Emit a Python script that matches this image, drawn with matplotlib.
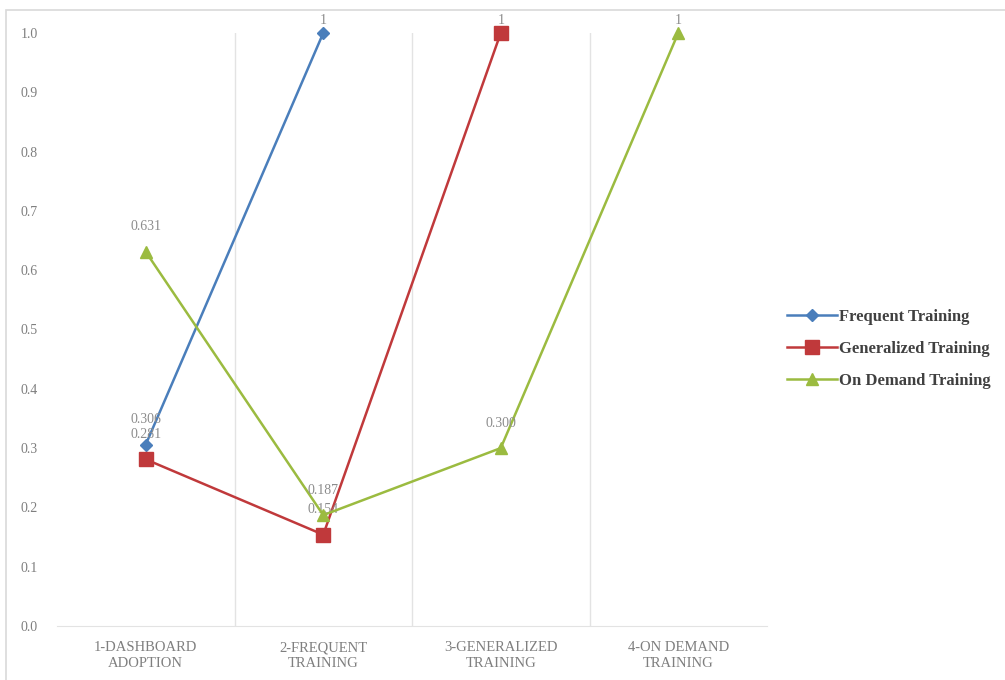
import matplotlib.pyplot as plt
from matplotlib.patches import Rectangle

# categories along the x axis
categories = ["1-DASHBOARD\nADOPTION", "2-FREQUENT\nTRAINING",
              "3-GENERALIZED\nTRAINING", "4-ON DEMAND\nTRAINING"]

# series values (None = no point in that category)
frequent = [0.306, 1.0, None, None]
generalized = [0.281, 0.154, 1.0, None]
on_demand = [0.631, 0.187, 0.300, 1.0]

# labels written next to each point
frequent_lbl = ["0.306", "1", None, None]
generalized_lbl = ["0.281", "0.154", "1", None]
on_demand_lbl = ["0.631", "0.187", "0.300", "1"]

yticks = [0.0, 0.1, 0.2, 0.3, 0.4, 0.5, 0.6, 0.7, 0.8, 0.9, 1.0]

plt.rcParams['font.family'] = ['Liberation Serif', 'DejaVu Serif']

fig = plt.figure(figsize=(10.05, 6.8), dpi=100)
ax = fig.add_axes([57 / 1005, 1 - 626 / 680, 710 / 1005, 593 / 680])

# light outer frame of the chart
fig.patches.append(Rectangle((6 / 1005, -0.1), 1.2, 1 - 10 / 680 + 0.1,
                             transform=fig.transFigure, fill=False,
                             edgecolor="#d9d9d9", linewidth=1.2))

series = [
    ("Frequent Training", frequent, frequent_lbl, "#4a7ebb", "D", 6),
    ("Generalized Training", generalized, generalized_lbl, "#c0393b", "s", 10),
    ("On Demand Training", on_demand, on_demand_lbl, "#9bbb40", "^", 8),
]

for z, (name, vals, lbls, col, mk, ms) in enumerate(series):
    xs = [i for i, v in enumerate(vals) if v is not None]
    ys = [v for v in vals if v is not None]
    ax.plot(xs, ys, color=col, linewidth=1.8, marker=mk, markersize=ms,
            markeredgecolor=col, label=name, zorder=3 + z, clip_on=False)
    for i, (v, t) in enumerate(zip(vals, lbls)):
        if v is None or t is None:
            continue
        off = 9 if v >= 1.0 else 18
        ax.annotate(t, (i, v), xytext=(0, off), textcoords="offset points",
                    ha="center", va="center", fontsize=10, color="#8c8c8c",
                    zorder=3 + z)

ax.set_xlim(-0.5, 3.5)
ax.set_ylim(0, 1.0)
ax.set_xticks(range(len(categories)))
ax.set_xticklabels(categories, fontsize=10.5, color="#7f7f7f", linespacing=1.25)
ax.set_yticks(yticks)
ax.set_yticklabels([f"{t:.1f}" for t in yticks], fontsize=10, color="#7f7f7f")
ax.tick_params(axis="both", length=0)
ax.tick_params(axis="y", pad=14)
ax.tick_params(axis="x", pad=11)

# vertical separators between categories
for b in [0.5, 1.5, 2.5]:
    ax.axvline(b, color="#e3e3e3", linewidth=1, zorder=1)

for s in ["top", "right", "left"]:
    ax.spines[s].set_visible(False)
ax.spines["bottom"].set_color("#e3e3e3")

leg = fig.legend(loc="center left", bbox_to_anchor=(772 / 1005, 1 - 349 / 680),
                 frameon=False, fontsize=12, handlelength=3.0,
                 labelspacing=0.95, handletextpad=0.1)
for t in leg.get_texts():
    t.set_color("#404040")
    t.set_fontweight("bold")

fig.savefig("out.png", dpi=100)
